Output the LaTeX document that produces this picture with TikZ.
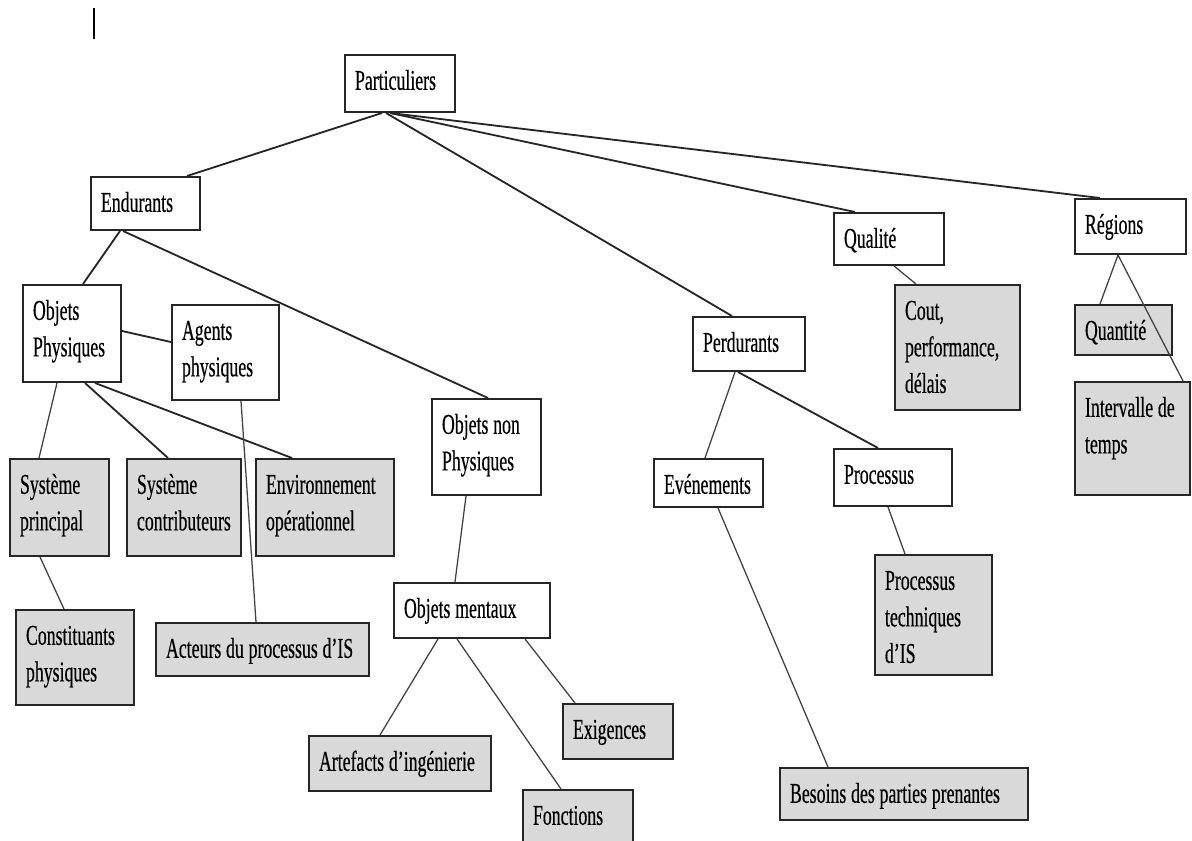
\documentclass[tikz,border=0pt]{standalone}
\usepackage{fontspec}
\usepackage{xcolor}
\usepackage{tikz}
\usetikzlibrary{calc}

\newfontfamily\boxfont[FakeStretch=0.62, FakeBold=0.4]{Liberation Serif}
\newcommand\boxtext{\boxfont\fontsize{20.4pt}{26pt}\selectfont\spaceskip=3.4pt plus 1pt minus 1pt\relax}
\definecolor{leafgray}{RGB}{217,217,217}

\begin{document}
\begin{tikzpicture}[
    x=0.025cm, y=-0.025cm,
    box/.style 2 args={rectangle, anchor=north west, draw=black!85, line width=1.4pt, inner xsep=0.25cm, inner ysep=0pt, align=flush left, text width={#1-0.5cm}, text height=0.87cm, text depth={#2-0.87cm}, font=\boxtext},
    cls/.style 2 args={box={#1}{#2}, fill=white},
    leaf/.style 2 args={box={#1}{#2}, fill=leafgray},
    link/.style={draw=black!85, line width=1.3pt},
    sublink/.style={draw=black!75, line width=0.9pt}
]
    \useasboundingbox (0,0) rectangle (1192,841);
    \clip (0,0) rectangle (1192,841);

    % stray mark, top left
    \draw [line width=2.1pt] (94,8) -- (94,39);

    % Root
    \node (part) at (344,54) [cls={2.75cm}{1.425cm}] {Particuliers};

    % Second level
    \node (endu) at (90,176) [cls={2.725cm}{1.325cm}] {Endurants};
    \node (perd) at (692,316) [cls={2.8cm}{1.35cm}] {Perdurants};
    \node (qual) at (833,212) [cls={2.75cm}{1.3cm}] {Qualité};
    \node (regi) at (1074,198) [cls={2.775cm}{1.375cm}] {Régions};

    % Endurants branch
    \node (objp) at (22,284) [cls={2.45cm}{2.425cm}] {Objets\\Physiques};
    \node (agen) at (171,304) [cls={2.675cm}{2.375cm}] {Agents\\physiques};
    \node (onph) at (431,398) [cls={2.725cm}{2.4cm}] {Objets non\\Physiques};
    \node (omen) at (393,582) [cls={3.9cm}{1.375cm}] {Objets mentaux};

    \node (sprin) at (9,458) [leaf={2.475cm}{2.425cm}] {Système\\principal};
    \node (scont) at (126,458) [leaf={2.85cm}{2.425cm}] {Système\\contributeurs};
    \node (envop) at (255,458) [leaf={3.45cm}{2.425cm}] {Environnement\\opérationnel};
    \node (const) at (15,609) [leaf={2.95cm}{2.375cm}] {Constituants\\physiques};
    \node (acte) at (155,622) [leaf={5.325cm}{1.325cm}] {Acteurs du processus d’IS};
    \node (arte) at (308,735) [leaf={4.55cm}{1.375cm}] {Artefacts d’ingénierie};
    \node (fonc) at (522,789) [leaf={2.75cm}{1.5cm}] {Fonctions};
    \node (exig) at (562,703) [leaf={2.75cm}{1.375cm}] {Exigences};

    % Perdurants branch
    \node (even) at (653,458) [cls={2.725cm}{1.2cm}] {Evénements};
    \node (proc) at (833,448) [cls={2.95cm}{1.425cm}] {Processus};
    \node (besoin) at (779,767) [leaf={6.2cm}{1.3cm}] {Besoins des parties prenantes};
    \node (ptech) at (874,554) [leaf={2.925cm}{3.0cm}] {Processus\\techniques\\d’IS};

    % Qualite and Regions
    \node (cout) at (894,284) [leaf={3.125cm}{3.125cm}] {Cout,\\performance,\\délais};
    \node (quan) at (1074,304) [leaf={2.425cm}{1.25cm}] {Quantité};
    \node (inte) at (1074,381) [leaf={2.875cm}{2.825cm}] {Intervalle de\\temps};

    % Links from the root
    \draw [link] ($(part.south west)+(38,0)$) -- ($(endu.north west)+(97,0)$);
    \draw [link] ($(part.south west)+(42,0)$) -- ($(perd.north west)+(40,0)$);
    \draw [link] ($(part.south west)+(46,0)$) -- ($(qual.north west)+(22,0)$);
    \draw [link] ($(part.south west)+(46,0)$) -- ($(regi.north west)+(26,0)$);

    % Endurants links
    \draw [link] ($(endu.south west)+(30,0)$) -- ($(objp.north west)+(61,0)$);
    \draw [link] ($(endu.south west)+(33,0)$) -- ($(onph.north west)+(57,0)$);
    \draw [link] ($(objp.north east)+(0,47)$) -- ($(agen.north west)+(0,38)$);
    \draw [sublink] ($(objp.south west)+(35,0)$) -- ($(sprin.north west)+(30,0)$);
    \draw [link] ($(objp.south west)+(63,0)$) -- ($(scont.north west)+(42,0)$);
    \draw [link] ($(objp.south west)+(73,0)$) -- ($(envop.north west)+(37,0)$);
    \draw [sublink] ($(agen.south west)+(70,0)$) -- ($(acte.north west)+(101,0)$);
    \draw [sublink] ($(sprin.south west)+(31,0)$) -- ($(const.north west)+(49,0)$);
    \draw [sublink] ($(onph.south west)+(35,0)$) -- ($(omen.north west)+(62,0)$);
    \draw [sublink] ($(omen.south west)+(45,0)$) -- ($(arte.north west)+(72,0)$);
    \draw [sublink] ($(omen.south west)+(64,0)$) -- ($(fonc.north west)+(39,0)$);
    \draw [sublink] ($(omen.south west)+(132,0)$) -- ($(exig.north west)+(13,0)$);

    % Perdurants links
    \draw [sublink] ($(perd.south west)+(43,0)$) -- ($(even.north west)+(52,0)$);
    \draw [link] ($(perd.south west)+(46,0)$) -- ($(proc.north west)+(45,0)$);
    \draw [sublink] ($(even.south west)+(65,0)$) -- ($(besoin.north west)+(49,0)$);
    \draw [sublink] ($(proc.south west)+(55,0)$) -- ($(ptech.north west)+(31,0)$);

    % Qualite and Regions links
    \draw [sublink] ($(qual.south west)+(61,0)$) -- ($(cout.north west)+(22,0)$);
    \draw [sublink] ($(regi.south west)+(44,0)$) -- ($(quan.north west)+(26,0)$);
    \draw [sublink] ($(regi.south west)+(44,0)$) -- ($(inte.north west)+(109,0)$);

\end{tikzpicture}
\end{document}
